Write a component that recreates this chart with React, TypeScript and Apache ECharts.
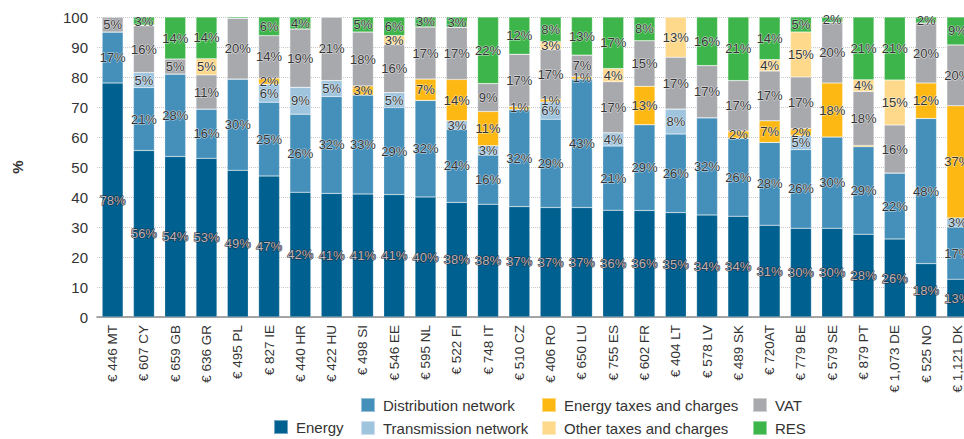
import React, { useEffect, useRef } from "react";
import * as echarts from "echarts";

const categories = [
  "€ 446 MT", "€ 607 CY", "€ 659 GB", "€ 636 GR", "€ 495 PL", "€ 827 IE", "€ 440 HR",
  "€ 422 HU", "€ 498 SI", "€ 546 EE", "€ 595 NL", "€ 522 FI", "€ 748 IT", "€ 510 CZ",
  "€ 406 RO", "€ 650 LU", "€ 755 ES", "€ 602 FR", "€ 404 LT", "€ 578 LV", "€ 489 SK",
  "€ 720AT", "€ 779 BE", "€ 579 SE", "€ 879 PT", "€ 1,073 DE", "€ 525 NO", "€ 1,121 DK",
];

const energy = [78, 55.5, 53.5, 52.9, 48.9, 47, 41.6, 41.2, 41, 40.8, 40, 38.2, 37.6, 36.8, 36.5, 36.5, 35.6, 35.5, 34.8, 34, 33.6, 30.6, 29.6, 29.6, 27.6, 26, 17.8, 12.6];
const distribution = [17, 21, 27.5, 16.4, 30.4, 24.6, 26, 32.3, 33, 29, 32.2, 24.4, 16.4, 32.4, 29.4, 42.8, 21.4, 28.6, 26.2, 32.4, 26, 27.6, 26.2, 30.4, 29.2, 22, 48.4, 17.4];
const transmission = [0, 5, 0, 0, 0, 6, 9, 5.3, 0, 5, 0, 2.8, 3.1, 0, 5.8, 0, 4.4, 0, 8.3, 0, 0, 0, 4.6, 0, 0, 0, 0, 3];
const energyTaxes = [0, 0, 0, 0, 0, 2, 0, 0, 3, 0, 7.1, 13.8, 11.4, 1, 0.9, 0.8, 0, 12.8, 0, 0, 2.4, 7.2, 2.4, 18, 0.4, 0, 11.8, 37.4];
const vat = [5, 15.6, 5, 11.4, 20.3, 14.2, 19.4, 21.2, 18, 16, 17.4, 17.4, 9.3, 17.4, 16.6, 7.2, 17, 15.2, 17.3, 17.4, 16.8, 16.6, 17.2, 20.2, 18, 16, 20, 20.3];
const otherTaxes = [0, 0.2, 0, 5.4, 0, 0, 0, 0, 0, 3, 0, 0, 0, 0, 2.6, 0, 4.4, 0, 13.4, 0, 0, 3.8, 15, 0, 3.9, 15, 0, 0];
const res = [0, 2.7, 14, 13.9, 0.4, 6.2, 4, 0, 5, 6.2, 3.3, 3.4, 22.2, 12.4, 8.2, 12.7, 17.2, 7.9, 0, 16.2, 21.2, 14.2, 5, 1.8, 20.9, 21, 2, 9.3];

const yTicks = [0, 10, 20, 30, 40, 50, 60, 70, 80, 90, 100];

const FONT = "Liberation Sans, Arial, Helvetica, sans-serif";
const NARROW = "'Liberation Sans Narrow', 'Arial Narrow', 'Liberation Sans', Arial, sans-serif";

const seriesDefs = [
  { name: "Energy", data: energy, color: "#00608f", dark: true },
  { name: "Distribution network", data: distribution, color: "#4590bb", dark: false },
  { name: "Transmission network", data: transmission, color: "#9ec4de", dark: false },
  { name: "Energy taxes and charges", data: energyTaxes, color: "#fdb813", dark: false },
  { name: "VAT", data: vat, color: "#a8a9ad", dark: false },
  { name: "Other taxes and charges", data: otherTaxes, color: "#fed98c", dark: false },
  { name: "RES", data: res, color: "#3db54a", dark: false },
];

export default function App() {
  const ref = useRef<HTMLDivElement>(null);
  useEffect(() => {
    if (!ref.current) return;
    const chart = echarts.init(ref.current, undefined, { renderer: "svg" });
    const legendCommon = {
      itemWidth: 14,
      itemHeight: 14,
      icon: "rect",
      orient: "vertical" as const,
      itemGap: 7,
      padding: 0,
      selectedMode: false,
      textStyle: { fontFamily: FONT, fontSize: 15, color: "#333", lineHeight: 14, padding: [0, 0, 0, 3] },
    };
    chart.setOption({
      animation: false,
      backgroundColor: "#ffffff",
      grid: { left: 97, width: 876, top: 17, bottom: 122 },
      legend: [
        { ...legendCommon, left: 273, top: 419, data: ["Energy"] },
        { ...legendCommon, left: 360, top: 397, data: ["Distribution network", "Transmission network"] },
        { ...legendCommon, left: 541, top: 397, data: ["Energy taxes and charges", "Other taxes and charges"] },
        { ...legendCommon, left: 752, top: 397, data: ["VAT", "RES"] },
      ],
      xAxis: {
        type: "category",
        data: categories,
        axisTick: { show: false },
        axisLine: { show: true, lineStyle: { color: "#8a8a8a", width: 1.5 } },
        axisLabel: {
          rotate: 90,
          interval: 0,
          margin: 8,
          fontFamily: FONT,
          fontSize: 13.5,
          color: "#333",
        },
      },
      yAxis: {
        type: "value",
        min: yTicks[0],
        max: yTicks[yTicks.length - 1],
        interval: 10,
        name: "%",
        nameLocation: "middle",
        nameRotate: 90,
        nameGap: 72,
        nameTextStyle: { fontFamily: FONT, fontSize: 15, fontWeight: "bold", color: "#333" },
        axisLine: { show: false },
        axisTick: { show: false },
        axisLabel: { margin: 9, fontFamily: FONT, fontSize: 15, color: "#333" },
        splitLine: { show: true, lineStyle: { color: "#c8c8c8", type: "dotted", width: 1 } },
      },
      series: seriesDefs.map((s) => ({
        name: s.name,
        type: "bar",
        stack: "total",
        data: s.data,
        barCategoryGap: "33%",
        itemStyle: { color: s.color, borderColor: "rgba(255,255,255,0.45)", borderWidth: 0.5 },
        label: {
          show: true,
          position: "inside",
          fontFamily: NARROW,
          fontSize: 13,
          color: s.dark ? "#bcb4b8" : "#333",
          textBorderColor: s.dark ? "#1f2a3a" : "rgba(255,255,255,0.7)",
          textBorderWidth: 1,
          formatter: (p: any) => {
            const r = Math.round(p.value);
            return r >= 1 ? r + "%" : "";
          },
        },
      })),
    });
    return () => chart.dispose();
  }, []);
  return (
    <div style={{ position: "fixed", left: 0, top: 0, width: 964, height: 439, overflow: "hidden" }}>
      <div ref={ref} style={{ position: "absolute", left: 0, top: 0, width: 990, height: 439 }} />
    </div>
  );
}
